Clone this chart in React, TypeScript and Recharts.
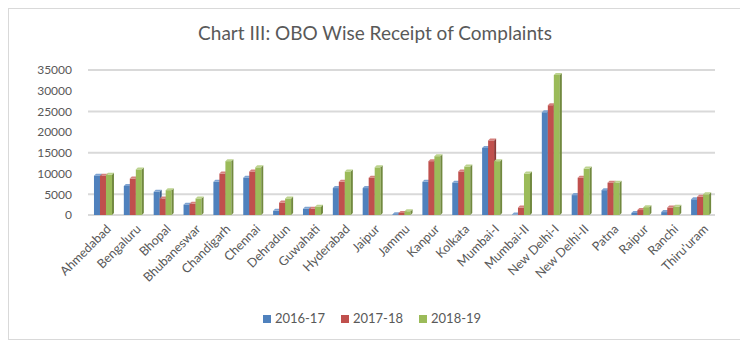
import { Bar, BarChart, CartesianGrid, Legend, XAxis, YAxis } from "recharts"

const offices = [
  "Ahmedabad", "Bengaluru", "Bhopal", "Bhubaneswar", "Chandigarh", "Chennai", "Dehradun",
  "Guwahati", "Hyderabad", "Jaipur", "Jammu", "Kanpur", "Kolkata", "Mumbai-I", "Mumbai-II",
  "New Delhi-I", "New Delhi-II", "Patna", "Raipur", "Ranchi", "Thiru'uram",
]
const y2016 = [9500, 7000, 5600, 2500, 8000, 9000, 1000, 1500, 6500, 6500, 200, 8000, 7800, 16200, 100, 24800, 4800, 6000, 500, 700, 3800]
const y2017 = [9500, 8800, 4000, 2700, 10000, 10500, 3000, 1500, 8000, 9000, 500, 13000, 10500, 18000, 1800, 26500, 9000, 7800, 1200, 1800, 4400]
const y2018 = [9700, 11000, 6000, 4000, 13000, 11500, 4000, 2000, 10500, 11500, 900, 14200, 11700, 13000, 10000, 33800, 11200, 7800, 1900, 2000, 5000]
const yTicks = [0, 5000, 10000, 15000, 20000, 25000, 30000, 35000]

const data = offices.map((name, i) => ({
  name,
  a: y2016[i],
  b: y2017[i],
  c: y2018[i],
}))

const FONT = "Lato, 'Noto Sans', sans-serif"
const GREY = "#595959"

// faux 3D column: front face, darker right side, lighter top cap
function Column(side: string, top: string) {
  return (props: any) => {
    const { x, y, width, height, fill } = props
    if (!height || height <= 0) return <g />
    const d = 2
    return (
      <g>
        <rect x={x} y={y} width={width} height={height} fill={fill} />
        <polygon
          points={`${x + width},${y} ${x + width + d},${y - d} ${x + width + d},${y + height - d} ${x + width},${y + height}`}
          fill={side}
        />
        <polygon
          points={`${x},${y} ${x + d},${y - d} ${x + width + d},${y - d} ${x + width},${y}`}
          fill={top}
        />
      </g>
    )
  }
}

function SlantTick(props: any) {
  const { x, y, payload } = props
  return (
    <g transform={`translate(${x + 6},${y + 4})`}>
      <text transform="rotate(-45)" textAnchor="end" dy={4} fontSize={12.5} fill={GREY} fontFamily={FONT}>
        {payload.value}
      </text>
    </g>
  )
}

export default function App() {
  return (
    <div
      style={{
        position: "relative",
        width: 732,
        height: 330,
        border: "1px solid #d9d9d9",
        background: "#fff",
        fontFamily: FONT,
      }}
    >
      <div
        style={{
          position: "absolute",
          top: 12,
          left: 0,
          width: "100%",
          textAlign: "center",
          fontSize: 19,
          color: GREY,
        }}
      >
        Chart III: OBO Wise Receipt of Complaints
      </div>
      <BarChart
        width={732}
        height={330}
        data={data}
        margin={{ top: 61, right: 26, left: 0, bottom: 13 }}
        barCategoryGap="20%"
        barGap={0}
      >
        <CartesianGrid vertical={false} stroke="#d9d9d9" strokeWidth={2} />
        <XAxis
          dataKey="name"
          interval={0}
          height={92}
          axisLine={false}
          tickLine={false}
          tick={<SlantTick />}
        />
        <YAxis
          width={79}
          domain={[0, 35000]}
          ticks={yTicks}
          axisLine={false}
          tickLine={false}
          tickMargin={10}
          tick={{ fontSize: 12, fill: GREY, fontFamily: FONT }}
        />
        <Legend
          verticalAlign="bottom"
          iconType="square"
          iconSize={8}
          itemSorter={null}
          wrapperStyle={{ paddingLeft: 18 }}
          formatter={(v) => <span style={{ color: GREY, fontSize: 13, marginRight: 6 }}>{v}</span>}
        />
        <Bar dataKey="a" name="2016-17" fill="#4F81BD" shape={Column("#385D8A", "#7EA3D1")} isAnimationActive={false} />
        <Bar dataKey="b" name="2017-18" fill="#C0504D" shape={Column("#8C3836", "#D5807D")} isAnimationActive={false} />
        <Bar dataKey="c" name="2018-19" fill="#9BBB59" shape={Column("#71893F", "#BCD38E")} isAnimationActive={false} />
      </BarChart>
    </div>
  )
}
